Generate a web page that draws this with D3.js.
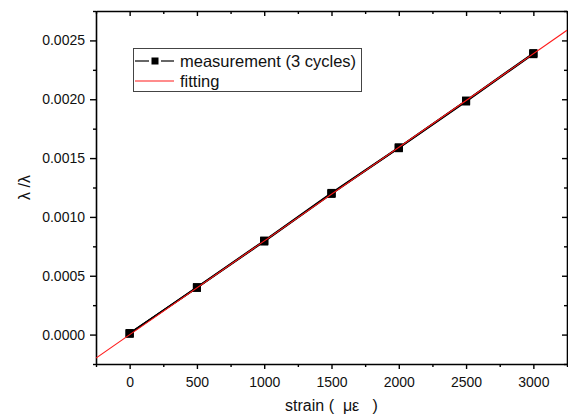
<!DOCTYPE html>
<html>
<head>
<meta charset="utf-8">
<script src="https://cdn.jsdelivr.net/npm/d3@7"></script>
<style>
  html, body { margin: 0; padding: 0; background: #fff; }
  svg { display: block; font-family: "Liberation Sans", Arial, sans-serif; }
</style>
</head>
<body>
<svg id="chart" width="568" height="417"></svg>
<script>
// Applied strain (microstrain)
const strain = [0, 500, 1000, 1500, 2000, 2500, 3000];
// Relative wavelength shift for each loading cycle
const cycle1 = [0.000010, 0.000400, 0.000795, 0.001200, 0.001588, 0.001985, 0.002388];
const cycle2 = [0.000013, 0.000397, 0.000791, 0.001196, 0.001584, 0.001981, 0.002383];
const cycle3 = [0.000007, 0.000403, 0.000799, 0.001204, 0.001591, 0.001989, 0.002392];
// Linear fit: shift = slope * strain + intercept
const fitSlope = 7.96e-7;
const fitIntercept = -0.000001;
// Axis ticks
const xTicks = [0, 500, 1000, 1500, 2000, 2500, 3000];
const xMinor = [-250, 250, 750, 1250, 1750, 2250, 2750, 3250];
const yTicks = [0, 0.0005, 0.0010, 0.0015, 0.0020, 0.0025];
const yMinor = [-0.00025, 0.00025, 0.00075, 0.00125, 0.00175, 0.00225, 0.00275];
const legendLabels = ["measurement (3 cycles)", "fitting"];

const svg = d3.select("#chart");
const L = 96, R = 567, T = 11, B = 364;

const x = d3.scaleLinear().domain([-250, 3250]).range([L, R]);
const y = d3.scaleLinear().domain([-0.00025, 0.00275]).range([B, T]);

const fmtY = d3.format(".4f");

// minor ticks (drawn first, shorter)
svg.append("g").attr("transform", `translate(0,${B})`)
  .call(d3.axisBottom(x).tickValues(xMinor).tickSize(3).tickFormat(""))
  .call(g => g.select(".domain").remove());
svg.append("g").attr("transform", `translate(0,${T})`)
  .call(d3.axisBottom(x).tickValues(xMinor).tickSize(3).tickFormat(""))
  .call(g => g.select(".domain").remove());
svg.append("g").attr("transform", `translate(${L},0)`)
  .call(d3.axisLeft(y).tickValues(yMinor).tickSize(3).tickFormat(""))
  .call(g => g.select(".domain").remove());
svg.append("g").attr("transform", `translate(${R},0)`)
  .call(d3.axisLeft(y).tickValues(yMinor).tickSize(3).tickFormat(""))
  .call(g => g.select(".domain").remove());

// major axes
svg.append("g").attr("transform", `translate(0,${B})`)
  .call(d3.axisBottom(x).tickValues(xTicks).tickSize(5).tickSizeOuter(0).tickPadding(8).tickFormat(d3.format("d")));
svg.append("g").attr("transform", `translate(0,${T})`)
  .call(d3.axisBottom(x).tickValues(xTicks).tickSize(5).tickSizeOuter(0).tickFormat(""));
svg.append("g").attr("transform", `translate(${L},0)`)
  .call(d3.axisLeft(y).tickValues(yTicks).tickSize(6).tickSizeOuter(0).tickPadding(5).tickFormat(fmtY));
svg.append("g").attr("transform", `translate(${R},0)`)
  .call(d3.axisLeft(y).tickValues(yTicks).tickSize(5).tickSizeOuter(0).tickFormat(""));

svg.selectAll(".domain").attr("stroke", "#000").attr("stroke-width", 1.6);
svg.selectAll(".tick line").attr("stroke", "#000").attr("stroke-width", 1.4);
svg.selectAll(".tick text").attr("fill", "#111").style("font-size", "14px")
  .style("font-family", "'Liberation Sans', Arial, sans-serif");

// axis titles
svg.append("text")
  .attr("x", (L + R) / 2).attr("y", 411)
  .attr("text-anchor", "middle")
  .style("font-size", "16px").attr("fill", "#111")
  .attr("xml:space", "preserve")
  .text("strain (  με   )");

svg.append("text")
  .attr("transform", `translate(30,${(T + B) / 2}) rotate(-90)`)
  .attr("text-anchor", "middle")
  .style("font-size", "16px").attr("fill", "#111")
  .attr("xml:space", "preserve")
  .text("λ /λ");

// clip region for plotted data
svg.append("clipPath").attr("id", "plotClip")
  .append("rect").attr("x", L).attr("y", T).attr("width", R - L).attr("height", B - T);

const plot = svg.append("g").attr("clip-path", "url(#plotClip)");

const cycles = [cycle1, cycle2, cycle3];
const line = d3.line().x(d => x(d[0])).y(d => y(d[1]));

cycles.forEach(c => {
  plot.append("path")
    .datum(strain.map((s, i) => [s, c[i]]))
    .attr("fill", "none").attr("stroke", "#000").attr("stroke-width", 1.6)
    .attr("d", line);
});

const ms = 8;
cycles.forEach(c => {
  plot.selectAll(null)
    .data(strain.map((s, i) => [s, c[i]]))
    .enter().append("rect")
    .attr("x", d => x(d[0]) - ms / 2).attr("y", d => y(d[1]) - ms / 2)
    .attr("width", ms).attr("height", ms)
    .attr("fill", "#000");
});

// fitted line across the full strain range
const xd = x.domain();
plot.append("path")
  .datum(xd.map(s => [s, fitSlope * s + fitIntercept]))
  .attr("fill", "none").attr("stroke", "#ff1a1a").attr("stroke-width", 1.1)
  .attr("d", line);

// legend
const lg = svg.append("g");
lg.append("rect").attr("x", 133.5).attr("y", 48.5).attr("width", 228).attr("height", 43)
  .attr("fill", "#fff").attr("stroke", "#444").attr("stroke-width", 1);
lg.append("line").attr("x1", 135).attr("x2", 149).attr("y1", 61).attr("y2", 61)
  .attr("stroke", "#000").attr("stroke-width", 1.2);
lg.append("line").attr("x1", 161).attr("x2", 174).attr("y1", 61).attr("y2", 61)
  .attr("stroke", "#000").attr("stroke-width", 1.2);
lg.append("rect").attr("x", 151.5).attr("y", 57.5).attr("width", 7).attr("height", 7).attr("fill", "#000");
lg.append("line").attr("x1", 135).attr("x2", 174).attr("y1", 81).attr("y2", 81)
  .attr("stroke", "#ff1a1a").attr("stroke-width", 1.2);
lg.selectAll("text.lab").data(legendLabels).enter().append("text")
  .attr("class", "lab")
  .attr("x", 180).attr("y", (d, i) => 67 + i * 19.5)
  .style("font-size", "16.5px").attr("fill", "#111")
  .text(d => d);
</script>
</body>
</html>
